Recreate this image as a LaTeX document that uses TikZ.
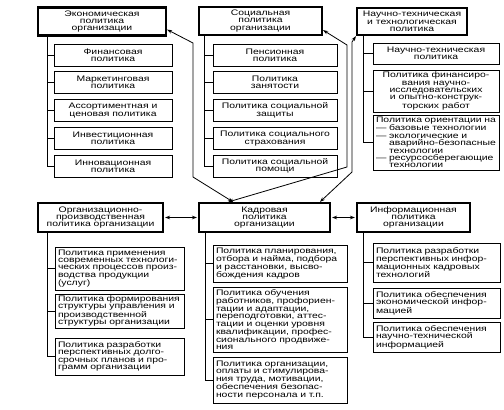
\documentclass[tikz,border=0pt]{standalone}
\usepackage{fontspec}
\newfontfamily\df{Liberation Sans}[FakeStretch=1.3]
\usetikzlibrary{arrows.meta}
\tikzset{
  box/.style={draw, line width=0.8pt, inner xsep=3pt, inner ysep=1pt, font=\df\fontsize{8}{7.4}\selectfont},
  hbox/.style={box, line width=2.2pt, align=center},
  cbox/.style={box, align=center},
  lbox/.style={box, align=left},
  tree/.style={line width=0.8pt},
  arr/.style={line width=0.8pt, {Stealth[length=5pt,width=3.6pt]}-{Stealth[length=5pt,width=3.6pt]}}
}
\begin{document}
\begin{tikzpicture}[x=1pt,y=-1pt]
\fill[white] (0,0) rectangle (504,410);
\useasboundingbox (0,0) rectangle (504,410);

% ---------- top row ----------
\node[hbox, minimum width=128pt, minimum height=28pt] (econ) at (102,21.5) {Экономическая\\политика\\организации};
\node[cbox, minimum width=118pt, minimum height=22pt] (e1) at (113,55) {Финансовая\\политика};
\node[cbox, minimum width=118pt, minimum height=22pt] (e2) at (113,82.5) {Маркетинговая\\политика};
\node[cbox, minimum width=118pt, minimum height=22pt] (e3) at (113,110.5) {Ассортиментная и\\ценовая политика};
\node[cbox, minimum width=118pt, minimum height=22pt] (e4) at (113,138.5) {Инвестиционная\\политика};
\node[cbox, minimum width=118pt, minimum height=22pt] (e5) at (113,166) {Инновационная\\политика};
\foreach \n in {e1,e2,e3,e4,e5} \draw[tree] ([xshift=10pt]econ.south west) |- (\n.west);

\node[hbox, minimum width=123pt, minimum height=28pt] (soc) at (260.5,21) {Социальная\\политика\\организации};
\node[cbox, minimum width=124pt, minimum height=22pt] (s1) at (275,55) {Пенсионная\\политика};
\node[cbox, minimum width=124pt, minimum height=22pt] (s2) at (275,82.5) {Политика\\занятости};
\node[cbox, minimum width=124pt, minimum height=22pt] (s3) at (275,110.5) {Политика социальной\\защиты};
\node[cbox, minimum width=124pt, minimum height=22pt] (s4) at (275,138.5) {Политика социального\\страхования};
\node[cbox, minimum width=124pt, minimum height=22pt] (s5) at (275,166) {Политика социальной\\помощи};
\foreach \n in {s1,s2,s3,s4,s5} \draw[tree] ([xshift=6pt]soc.south west) |- (\n.west);

\node[hbox, minimum width=110pt, minimum height=27pt] (sci) at (412,21.5) {Научно-техническая\\и технологическая\\политика};
\node[cbox, minimum width=126pt, minimum height=21pt] (t1) at (436,53.5) {Научно-техническая\\политика};
\node[cbox, minimum width=126pt, minimum height=42pt] (t2) at (436,91) {Политика финансиро-\\вания научно-\\исследовательских\\и опытно-конструк-\\торских работ};
\node[lbox, text width=120pt, minimum height=55pt] (t3) at (436,142.5) {Политика ориентации на\\— базовые технологии\\— экологические и\\\hphantom{— }аварийно-безопасные\\\hphantom{— }технологии\\— ресурсосберегающие\\\hphantom{— }технологии};
\foreach \n in {t1,t2,t3} \draw[tree] ([xshift=7pt]sci.south west) |- (\n.west);

% ---------- bottom row ----------
\node[hbox, minimum width=125pt, minimum height=29pt] (org) at (100.5,217.5) {Организационно-\\производственная\\политика организации};
\node[lbox, text width=123pt, minimum height=43pt] (o1) at (119.5,268.5) {Политика применения\\современных технологи-\\ческих процессов произ-\\водства продукции\\(услуг)};
\node[lbox, text width=123pt, minimum height=34pt] (o2) at (119.5,311) {Политика формирования\\структуры управления и\\производственной\\структуры организации};
\node[lbox, text width=123pt, minimum height=37pt] (o3) at (119.5,356.5) {Политика разработки\\перспективных долго-\\срочных планов и про-\\грамм организации};
\foreach \n in {o1,o2,o3} \draw[tree] ([xshift=10pt]org.south west) |- (\n.west);

\node[hbox, minimum width=131pt, minimum height=29pt] (kadr) at (264.5,217.5) {Кадровая\\политика\\организации};
\node[lbox, text width=128pt, minimum height=37pt] (k1) at (280,263.5) {Политика планирования,\\отбора и найма, подбора\\и расстановки, высво-\\бождения кадров};
\node[lbox, text width=128pt, minimum height=65pt] (k2) at (280,319.5) {Политика обучения\\работников, профориен-\\тации и адаптации,\\переподготовки, аттес-\\тации и оценки уровня\\квалификации, профес-\\сионального продвиже-\\ния};
\node[lbox, text width=128pt, minimum height=46pt] (k3) at (280,380) {Политика организации,\\оплаты и стимулирова-\\ния труда, мотивации,\\обеспечения безопас-\\ности персонала и т.п.};
\foreach \n in {k1,k2,k3} \draw[tree] ([xshift=7pt]kadr.south west) |- (\n.west);

\node[hbox, minimum width=113pt, minimum height=29pt] (info) at (413.5,217.5) {Информационная\\политика\\организации};
\node[lbox, text width=121pt, minimum height=39pt] (i1) at (436.5,262.5) {Политика разработки\\перспективных инфор-\\мационных кадровых\\технологий};
\node[lbox, text width=121pt, minimum height=30pt] (i2) at (436.5,303) {Политика обеспечения\\экономической инфор-\\мацией};
\node[lbox, text width=121pt, minimum height=30pt] (i3) at (436.5,337) {Политика обеспечения\\научно-технической\\информацией};
\foreach \n in {i1,i2,i3} \draw[tree] ([xshift=7pt]info.south west) |- (\n.west);

% ---------- arrows ----------
\draw[arr] ([yshift=7pt]econ.south east) -- (193,43) -- (193,177) -- ([xshift=-31.5pt]kadr.north);
\draw[arr] ([yshift=6pt]soc.south east) -- (347,45) -- (347,167) -- ([xshift=30.5pt]kadr.north west);
\draw[arr] (sci.south west) -- (352,42) -- (352,172) -- ([xshift=55.5pt]kadr.north);
\draw[arr, shorten <=1pt, shorten >=1pt] (org) -- (kadr);
\draw[arr, shorten <=1pt, shorten >=1pt] (kadr) -- (info);
\end{tikzpicture}
\end{document}
